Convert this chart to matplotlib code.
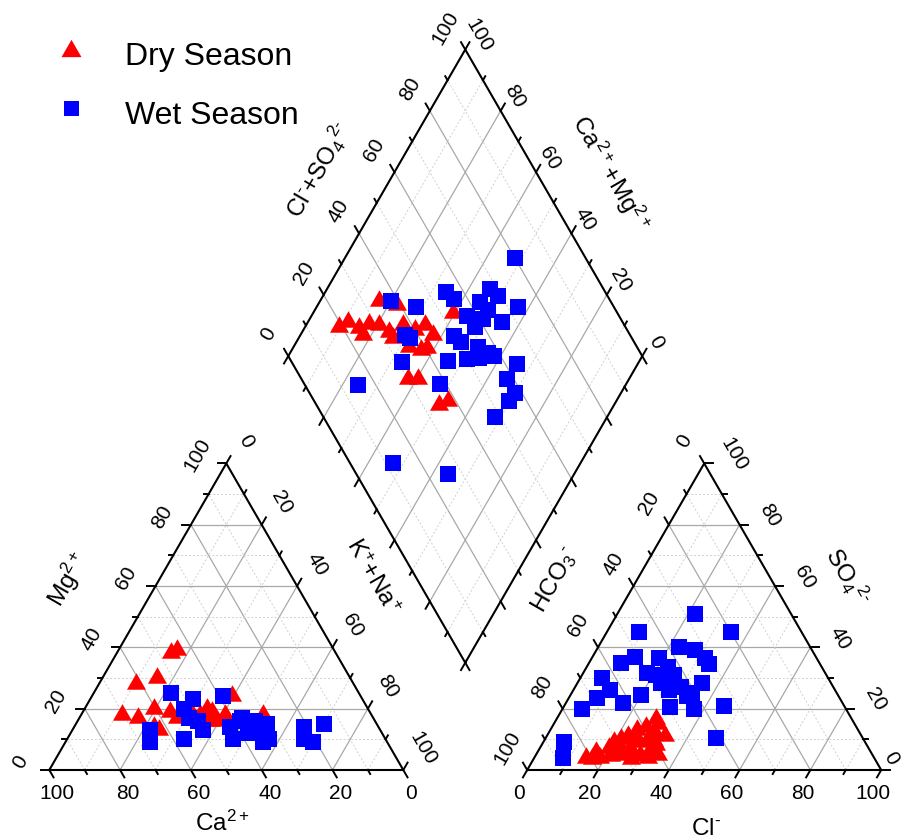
import numpy as np
import matplotlib.pyplot as plt

plt.rcParams['font.family'] = ['Liberation Sans', 'DejaVu Sans']
plt.rcParams['mathtext.default'] = 'regular'

# cation triangle (percent): Ca2+, Mg2+  (K+ + Na+ = rest)
dry_ca = [46, 44, 61, 54, 70, 66, 60, 63, 56, 55, 48, 44, 41, 36, 46, 30, 50, 44, 62, 45]
dry_mg = [39, 40, 29, 31, 19, 18, 21, 15, 20, 18, 19, 20, 19, 25, 17, 19, 21, 17, 14, 21]
wet_ca = [53, 48, 39, 52, 52, 50, 50, 65, 67, 57, 42, 43, 37, 37, 34, 33, 31, 35, 33,
          21, 23, 21, 15, 38, 38]
wet_mg = [25, 23, 24, 20, 17, 16, 13, 13, 9, 10, 14, 10, 17, 13, 16, 13, 15, 9, 10,
          14, 10, 9, 15, 16, 12]

# anion triangle (percent): Cl-, SO4 2-  (HCO3- = rest)
dry_cl = [14, 16, 18, 19, 19.5, 21, 21, 23.5, 22.5, 25, 24, 26.5, 29, 26, 28.5, 31,
          27.5, 29.5, 32, 27, 31.5, 34, 23, 16, 20.5, 25, 30.5, 33, 29, 27]
dry_so4 = [5, 7, 5, 8, 10, 5.5, 11, 7, 12, 8, 14, 10, 6, 15, 11, 7, 17.5, 13, 9, 5.5,
           5, 6, 6, 4.5, 7.5, 11.5, 10.5, 12, 16, 4.5]
wet_cl = [22, 9, 35, 23, 28, 32, 34, 12, 9, 19, 23, 6, 18, 26, 35, 30, 10.5, 27, 34, 8,
          16, 20, 30, 37, 45, 5.5, 48, 6, 8, 23.5, 33, 21, 24]
wet_so4 = [51, 45, 45, 40, 39, 36.5, 34.5, 37, 35, 36.5, 33.5, 30, 31.5, 31, 28.5, 27,
           26, 26, 25, 23.5, 22, 24.5, 20.5, 20, 21, 20, 10.5, 9, 4, 28.5, 24, 31, 29.5]

# diamond (percent): Cl- + SO4 2-, Ca2+ + Mg2+
dry_clso4 = [19.5, 23, 25, 25, 28.5, 35, 31, 33, 39.5, 33, 38, 36, 40.5, 44, 45, 41,
             39, 30.5, 33.5, 35, 38.5, 54]
dry_camg = [91, 89, 85, 83, 83, 84, 80, 76, 78, 74, 73, 68, 69, 67, 63, 62.5, 64, 63,
            60, 50, 48, 61]
wet_clso4 = [80, 55, 56, 68, 69, 63, 64, 73, 57, 61, 66, 57.5, 50, 51, 55, 50, 53.5, 57,
             58, 44.5, 63.5, 38.5, 58, 58, 55, 48.5, 44, 38, 36.5, 37.5, 31, 15, 12, 26]
wet_camg = [52, 66, 62.5, 54, 50.5, 54.5, 51, 43, 56, 51, 45, 52, 56.5, 53.5, 48, 49,
            46, 44, 42, 54, 34, 52.5, 34.5, 30, 30.5, 31.5, 72, 80, 70.5, 68.5, 67, 75.5,
            53, 35.5]

H = np.sqrt(3) / 2
GAP = 0.35
OX = 1 + GAP
BX, BY = 1 + GAP / 2, GAP * H


def cat_xy(ca, mg):
    ca, mg = np.asarray(ca, float), np.asarray(mg, float)
    nak = 100 - ca - mg
    return (nak + mg / 2) / 100, mg / 100 * H


def an_xy(cl, so4):
    cl, so4 = np.asarray(cl, float), np.asarray(so4, float)
    return OX + (cl + so4 / 2) / 100, so4 / 100 * H


def dia_xy(a, m):
    a, m = np.asarray(a, float), np.asarray(m, float)
    return BX + 0.5 * (a - m) / 100, BY + H * (a + m) / 100


fig = plt.figure(figsize=(9.05, 8.38), dpi=100)
ax = fig.add_axes([0, 0, 1, 1])
S = 354.0
ax.set_xlim(-49.3 / S, (905 - 49.3) / S)
ax.set_ylim((770 - 838) / S, 770 / S)
ax.axis('off')

major = dict(color='#a8a8a8', lw=0.9, zorder=1)
minor = dict(color='#d0d0d0', lw=0.7, ls=(0, (2, 2)), zorder=1)
edge = dict(color='black', lw=1.5, zorder=3, solid_capstyle='projecting')


def seg(p, q, **kw):
    ax.plot([p[0], q[0]], [p[1], q[1]], **kw)


# grid lines
for v in range(10, 100, 10):
    st = major if v % 20 == 0 else minor
    seg(cat_xy(100 - v, v), cat_xy(0, v), **st)
    seg(cat_xy(v, 0), cat_xy(v, 100 - v), **st)
    seg(cat_xy(100 - v, 0), cat_xy(0, 100 - v), **st)
    seg(an_xy(0, v), an_xy(100 - v, v), **st)
    seg(an_xy(v, 0), an_xy(v, 100 - v), **st)
    seg(an_xy(100 - v, 0), an_xy(0, 100 - v), **st)
    seg(dia_xy(v, 0), dia_xy(v, 100), **st)
    seg(dia_xy(0, v), dia_xy(100, v), **st)

# outlines
for f, pts in [(cat_xy, [(100, 0), (0, 0), (0, 100), (100, 0)]),
               (an_xy, [(0, 0), (100, 0), (0, 100), (0, 0)]),
               (dia_xy, [(0, 0), (100, 0), (100, 100), (0, 100), (0, 0)])]:
    xs, ys = f([p[0] for p in pts], [p[1] for p in pts])
    ax.plot(xs, ys, **edge)

# ticks and tick labels
tick_fs = 15
px = 1 / S


def tick(p, d, v, off=None, rot=0):
    L = 0.024 if v % 20 == 0 else 0.013
    ax.plot([p[0], p[0] + d[0] * L], [p[1], p[1] + d[1] * L], color='black', lw=1.4,
            zorder=3)
    if off is not None and v % 20 == 0:
        ax.text(p[0] + off[0] * px, p[1] + off[1] * px, str(v), fontsize=tick_fs,
                ha='center', va='center', rotation=rot, rotation_mode='anchor')


for v in range(0, 101, 10):
    # cation triangle
    tick(cat_xy(v, 0), (0.5, -H), v, (8, -23))
    tick(cat_xy(100 - v, v), (-1, 0), v, (-29, 8), 60)
    tick(cat_xy(0, 100 - v), (0.5, H), v, (20, 22), -60)
    # anion triangle
    tick(an_xy(v, 0), (-0.5, -H), v, (-8, -23))
    tick(an_xy(0, 100 - v), (-0.5, H), v, (-20, 22), 60)
    tick(an_xy(100 - v, v), (1, 0), v, (10, 12) if v == 0 else (30, 9), -60)
    # diamond
    tick(dia_xy(v, 100), (-0.5, H), v, (-20, 22), 60)
    tick(dia_xy(100, v), (0.5, H), v, (14, 14), -60)
    tick(dia_xy(0, v), (-0.5, -H), v)
    tick(dia_xy(v, 0), (0.5, -H), v)

# axis titles (short hyphen for the minus charge, as in the original)
hy = '\u2010'
lab_fs = 17.5
ax.text(0.49, -0.150, 'Ca$^{2+}$', fontsize=lab_fs, ha='center', va='center')
ax.text(0.054, 0.537, 'Mg$^{2+}$', fontsize=lab_fs, ha='center', va='center',
        rotation=60, rotation_mode='anchor')
ax.text(0.911, 0.546, 'K$^{+}$+Na$^{+}$', fontsize=lab_fs, ha='center', va='center',
        rotation=-60, rotation_mode='anchor')
ax.text(OX + 0.504, -0.166, 'Cl$^{' + hy + '}$', fontsize=lab_fs, ha='center',
        va='center')
ax.text(OX + 0.08, 0.537, 'HCO$_3$$^{' + hy + '}$', fontsize=lab_fs, ha='center',
        va='center', rotation=60, rotation_mode='anchor')
ax.text(OX + 0.904, 0.546, 'SO$_4$$^{2' + hy + '}$', fontsize=lab_fs, ha='center',
        va='center', rotation=-60, rotation_mode='anchor')
ax.text(0.76, 1.695, 'Cl$^{' + hy + '}$+SO$_4$$^{2' + hy + '}$', fontsize=lab_fs,
        ha='center', va='center', rotation=60, rotation_mode='anchor')
ax.text(1.584, 1.686, 'Ca$^{2+}$+Mg$^{2+}$', fontsize=lab_fs, ha='center',
        va='center', rotation=-60, rotation_mode='anchor')

# data points
tri = [(0, 0.433), (-0.5, -0.433), (0.5, -0.433)]
dry_kw = dict(ls='none', marker=tri, ms=13.7, color='#ff0000', mew=0, zorder=4)
wet_kw = dict(ls='none', marker='s', ms=11, color='#0000ff', mew=0, zorder=5)

ax.plot(*cat_xy(dry_ca, dry_mg), **dry_kw)
ax.plot(*an_xy(dry_cl, dry_so4), **dry_kw)
ax.plot(*dia_xy(dry_clso4, dry_camg), **dry_kw)
ax.plot(*cat_xy(wet_ca, wet_mg), **wet_kw)
ax.plot(*an_xy(wet_cl, wet_so4), **wet_kw)
ax.plot(*dia_xy(wet_clso4, wet_camg), **wet_kw)

# legend
ax.plot(0.0605, 2.040, ls='none', marker=tri, ms=14.4, color='#ff0000', mew=0)
ax.plot(0.0605, 1.869, ls='none', marker='s', ms=10.8, color='#0000ff', mew=0)
ax.text(0.214, 1.992, 'Dry Season', fontsize=23, ha='left', va='baseline')
ax.text(0.214, 1.825, 'Wet Season', fontsize=23, ha='left', va='baseline')

fig.savefig('out.png', dpi=100)
